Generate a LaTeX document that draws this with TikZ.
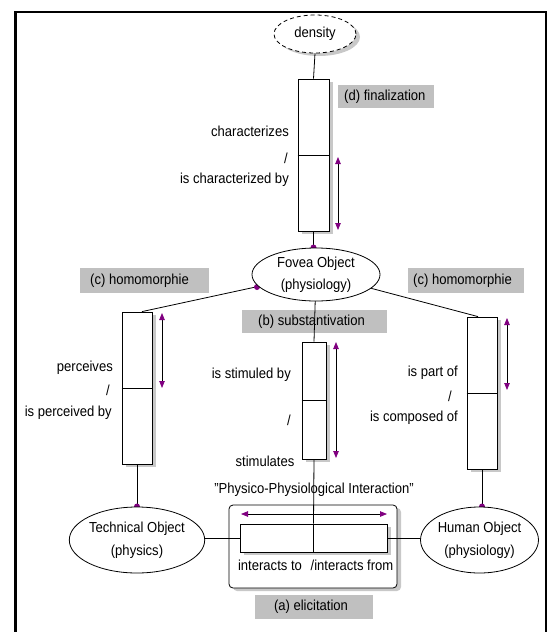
\documentclass[tikz,border=0pt]{standalone}
\usepackage{fontspec}
\setmainfont{Liberation Sans}[FakeStretch=0.9]
\usetikzlibrary{shapes.geometric,shadows,arrows.meta,calc}
\definecolor{purp}{RGB}{128,0,128}
\definecolor{lblgray}{RGB}{192,192,192}
\definecolor{shd}{RGB}{200,200,200}
\begin{document}
\begin{tikzpicture}[x=1pt,y=-1pt,
  font=\fontsize{14.5}{16}\selectfont,
  lab/.style={inner sep=0pt,text height=10.5pt,text depth=3pt},
  gbox/.style={fill=lblgray,draw=none,inner sep=0pt},
  shadowed/.style={drop shadow={shadow xshift=4pt,shadow yshift=-3pt,fill=shd,opacity=1}},
  relbox/.style={draw,fill=white,line width=0.8pt,inner sep=0pt,shadowed},
  obj/.style={ellipse,draw,fill=white,line width=0.8pt,inner sep=0pt,align=center},
  pdot/.style={circle,fill=purp,inner sep=0pt,minimum size=6pt},
  conn/.style={line width=0.8pt},
  dblarrow/.style={line width=0.8pt,arrows={Triangle[length=7pt,width=5.5pt,color=purp]-Triangle[length=7pt,width=5.5pt,color=purp]}}
]
\useasboundingbox (0,0) rectangle (547,632);
\fill[white] (0,0) rectangle (547,632);
% frame
\draw[line width=2.6pt] (15.3,650) -- (15.3,12) -- (546,12) -- (546,650);

% grey labels
\node[gbox,minimum width=96pt,minimum height=23pt] (gd) at (386,96.5) {};
\node[gbox,minimum width=129pt,minimum height=25pt] (gcl) at (144.5,280.5) {};
\node[gbox,minimum width=116pt,minimum height=25pt] (gcr) at (466,280.5) {};
\node[gbox,minimum width=145pt,minimum height=23pt] (gb) at (314.5,321.5) {};
\node[gbox,minimum width=118pt,minimum height=24pt] (ga) at (314,607) {};
\node[lab,anchor=west] (td) at (344,96.5) {(d) finalization};
\node[lab,anchor=west] (tcl) at (90,280.5) {(c) homomorphie};
\node[lab,anchor=west] (tcr) at (413,280.5) {(c) homomorphie};
\node[lab,anchor=west] (tb) at (258,321.5) {(b) substantivation};
\node[lab] (ta) at (311,607) {(a) elicitation};

% nodes (shapes)
\node[obj,dash pattern=on 4pt off 3pt,minimum width=82pt,minimum height=38pt,shadowed] (dens) at (315,34) {density};
\node[relbox,minimum width=31pt,minimum height=152pt] (tbox) at (313.5,155) {};
\node[relbox,minimum width=30pt,minimum height=152pt] (lbox) at (137,388) {};
\node[relbox,minimum width=24pt,minimum height=117pt] (mbox) at (314,400.5) {};
\node[relbox,minimum width=30pt,minimum height=152pt] (rbox) at (482,393) {};
\node[draw,fill=white,line width=0.8pt,rounded corners=4pt,shadowed,minimum width=168pt,minimum height=83pt] (rrect) at (313,546.5) {};
\node[relbox,minimum width=147pt,minimum height=28pt] (inner) at (313.5,538) {};

% connectors
\draw[conn] (dens.south) -- (tbox.north);
\draw[conn] (tbox.south) -- (tbox.south |- 0,250);
\draw[conn] (316,274.5) -- (mbox.north);
\draw[conn] (258,286.5) -- ($(lbox.north)+(5,0)$);
\draw[conn] (370,288) -- ($(rbox.north)+(-4,0)$);
\draw[conn] (lbox.south) -- (lbox.south |- 0,520);
\draw[conn] (rbox.south) -- (rbox.south |- 0,520);
\draw[conn] (inner.west) -- (137,538);
\draw[conn] (inner.east) -- (480,538);
\draw[conn] (mbox.south) -- (inner.north);
\draw[conn] (inner.north) -- (inner.south);
\draw[conn] (tbox.west) -- (tbox.east);
\draw[conn] (lbox.west) -- (lbox.east);
\draw[conn] (mbox.west) -- (mbox.east);
\draw[conn] (rbox.west) -- (rbox.east);

% dots
\node[pdot] (d1) at (313.5,247.5) {};
\node[pdot] (d2) at (257,287) {};
\node[pdot] (d3) at (137,506.5) {};
\node[pdot] (d4) at (482,506.5) {};
\node[pdot] (d5) at (195,538) {};
\node[pdot] (d6) at (424,538) {};

% objects
\node[obj,minimum width=128pt,minimum height=53pt] (fovea) at (316,274.5) {Fovea Object\\[6pt](physiology)};
\node[obj,minimum width=114pt,minimum height=66pt] (tech) at (137,540) {Technical Object\\[7pt](physics)};
\node[obj,minimum width=109pt,minimum height=66pt] (human) at (479.5,540) {Human Object\\[7pt](physiology)};

% arrows
\draw[dblarrow] (338,157) -- (338,230);
\draw[dblarrow] (162,313) -- (162,388);
\draw[dblarrow] (336,342) -- (336,458);
\draw[dblarrow] (507,318) -- (507,390);
\draw[dblarrow] (241,514) -- (387,514);

% relation labels
\node[lab,anchor=east] (l1) at (289,133) {characterizes};
\node[lab] (l2) at (286,160) {/};
\node[lab,anchor=east] (l3) at (289,180) {is characterized by};
\node[lab,anchor=east] (l4) at (113,368) {perceives};
\node[lab] (l5) at (108,392) {/};
\node[lab,anchor=east] (l6) at (112,413) {is perceived by};
\node[lab,anchor=east] (l7) at (291,375) {is stimuled by};
\node[lab] (l8) at (289,422) {/};
\node[lab] (l9) at (265,463) {stimulates};
\node[lab,anchor=east] (l10) at (458,373) {is part of};
\node[lab] (l11) at (450,398) {/};
\node[lab,anchor=east] (l12) at (458,418) {is composed of};
\node[lab] (l13) at (314,490) {\symbol{34}Physico-Physiological Interaction\symbol{34}};
\node[lab] (l14) at (270,567) {interacts to};
\node[lab] (l15) at (352,567) {/interacts from};
\end{tikzpicture}
\end{document}
